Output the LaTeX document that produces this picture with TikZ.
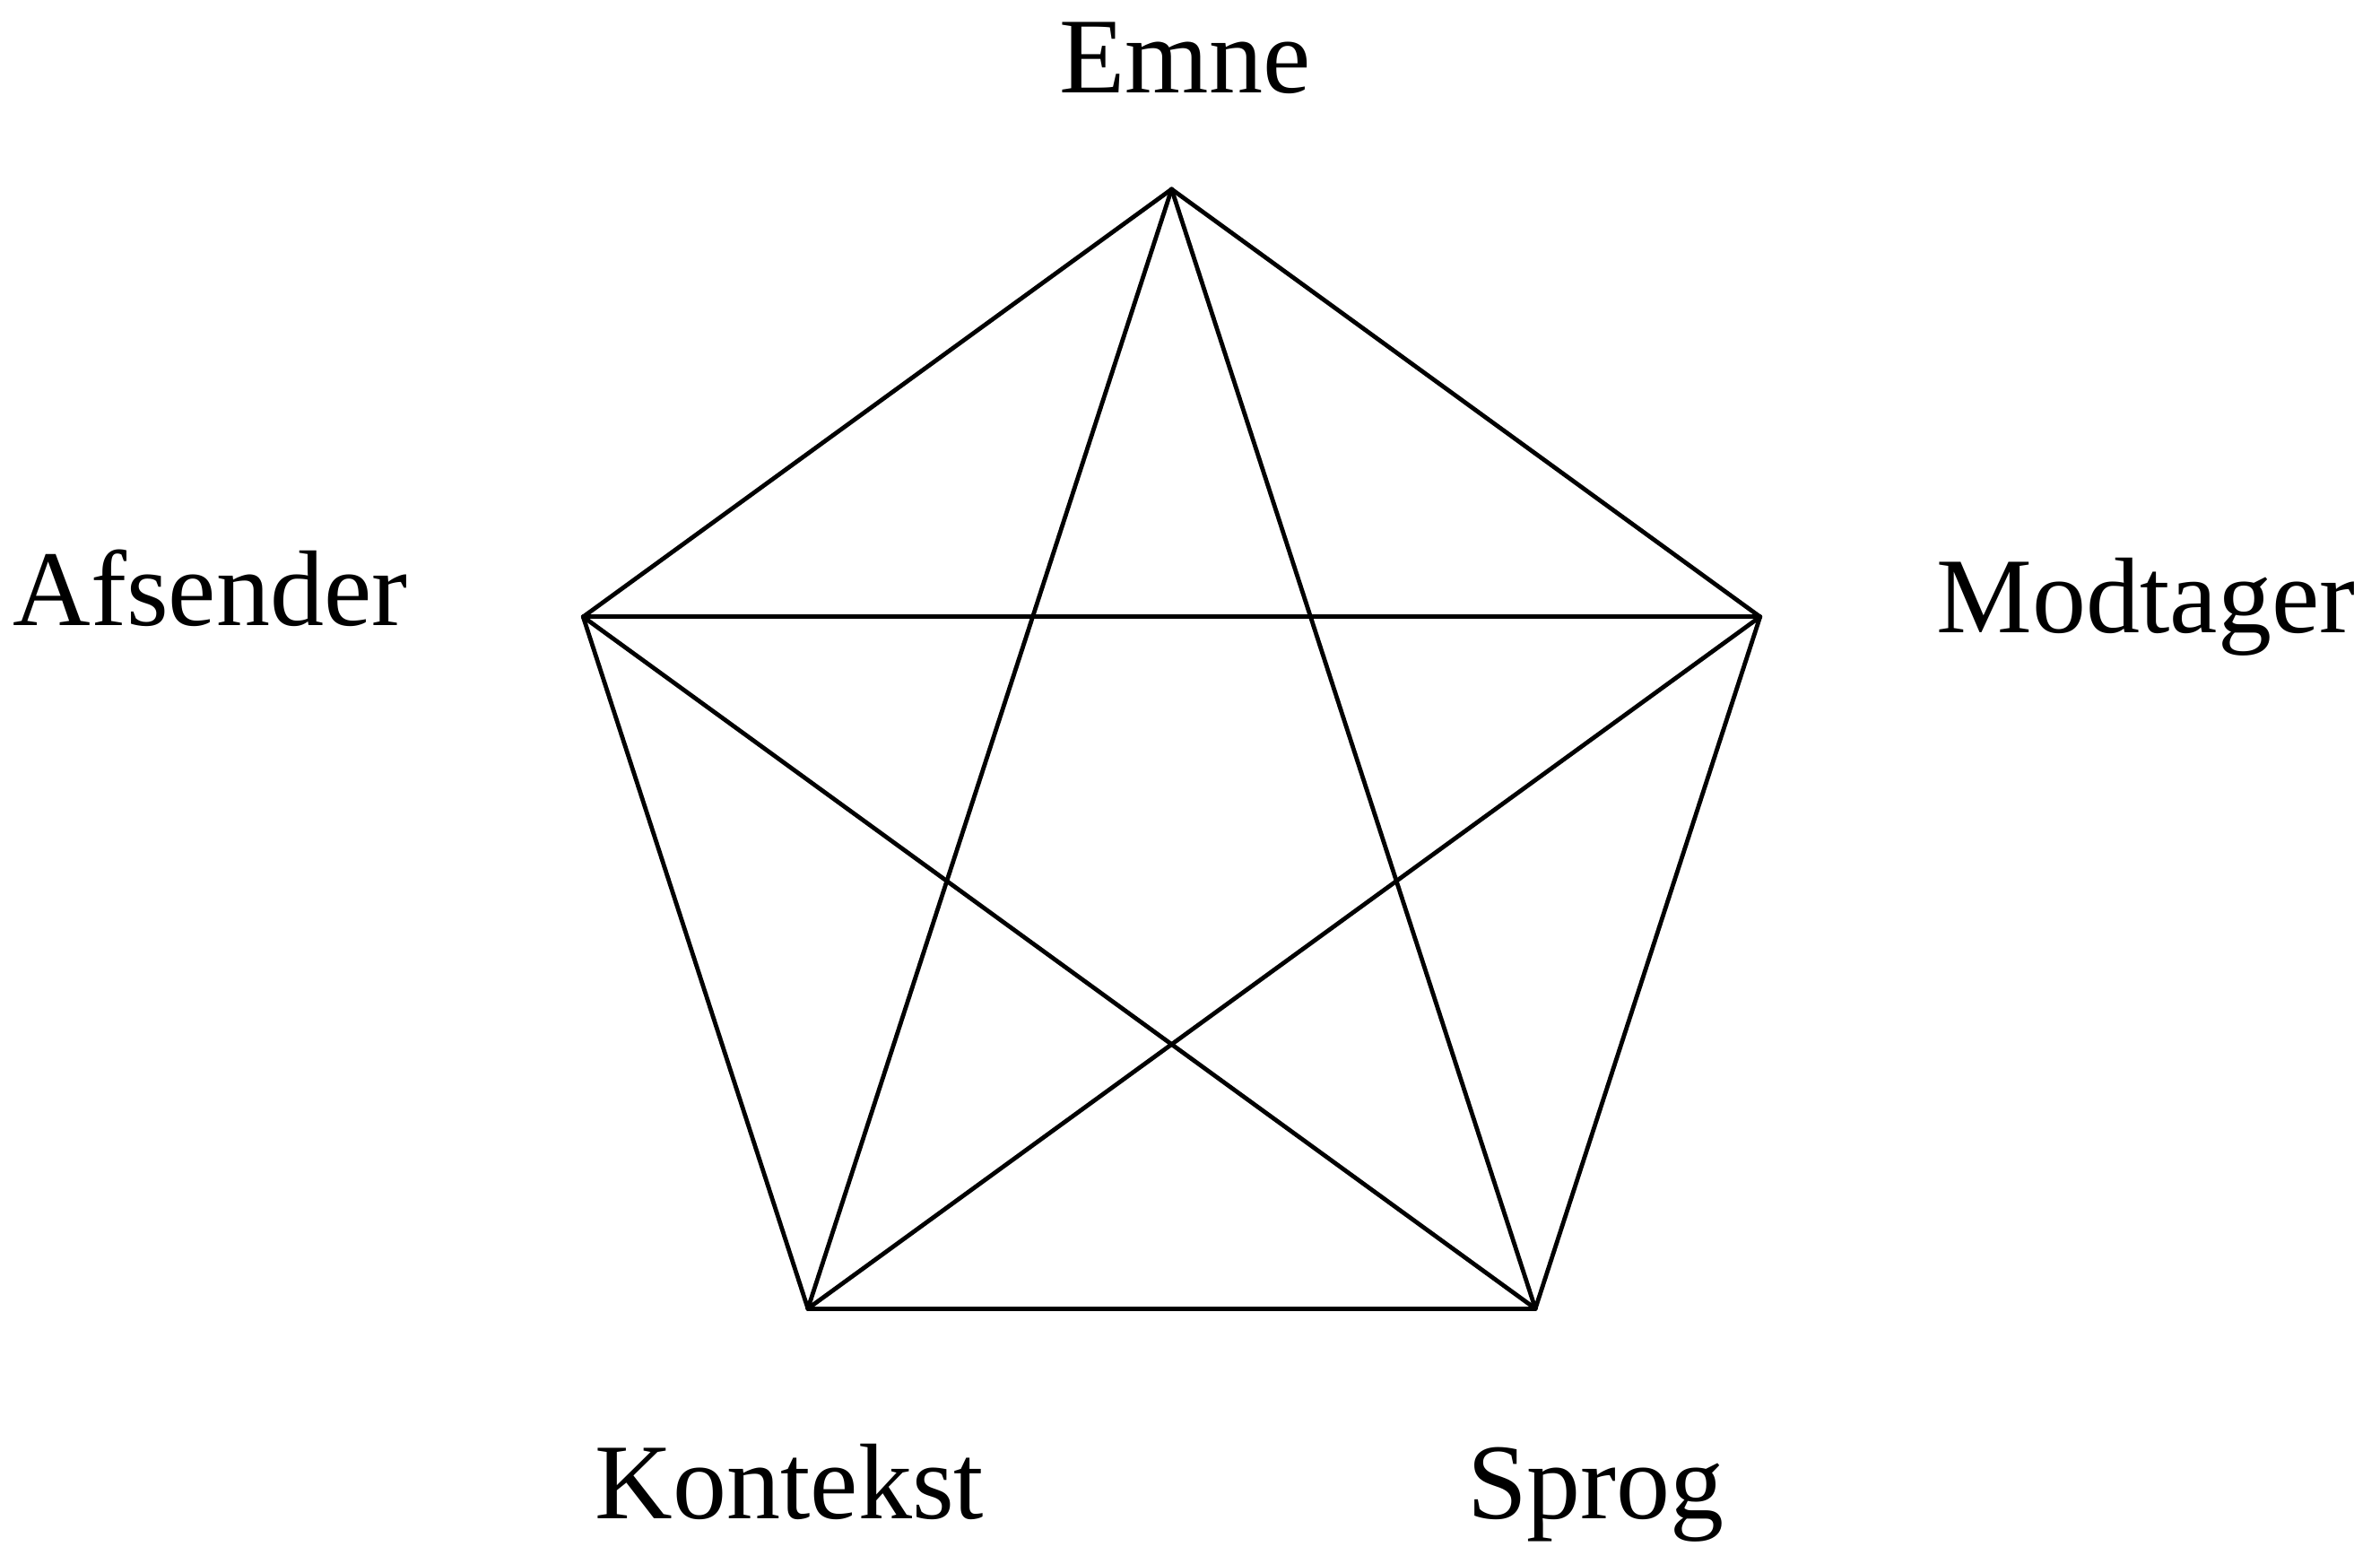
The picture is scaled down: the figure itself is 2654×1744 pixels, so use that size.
\documentclass[tikz,border=0pt]{standalone}
\usepackage{fontspec}
\setmainfont{Liberation Serif}
\begin{document}
\begin{tikzpicture}[x=0.25pt,y=-0.25pt,
  lbl/.style={inner sep=0pt,anchor=base,font=\fontsize{30}{36}\selectfont},
  edge/.style={draw=black,line width=1.2pt,line cap=round}]
\useasboundingbox (0,0) rectangle (2654,1744);
\coordinate (emne) at (1306.5,211);
\coordinate (modt) at (1962.7,687.8);
\coordinate (sprog) at (1712.1,1459.2);
\coordinate (kont) at (900.9,1459.2);
\coordinate (afs) at (650.3,687.8);
\node[lbl] (lemne) at (1321.5,104) {Emne};
\node[lbl] (lafs) at (234.5,697) {Afsender};
\node[lbl] (lmodt) at (2393,705) {Modtager};
\node[lbl] (lkont) at (880.5,1693) {Kontekst};
\node[lbl] (lsprog) at (1779.5,1693) {Sprog};
\draw[edge] (emne) -- (modt);
\draw[edge] (modt) -- (sprog);
\draw[edge] (sprog) -- (kont);
\draw[edge] (kont) -- (afs);
\draw[edge] (afs) -- (emne);
\draw[edge] (emne) -- (sprog);
\draw[edge] (emne) -- (kont);
\draw[edge] (afs) -- (modt);
\draw[edge] (afs) -- (sprog);
\draw[edge] (modt) -- (kont);
\end{tikzpicture}
\end{document}
